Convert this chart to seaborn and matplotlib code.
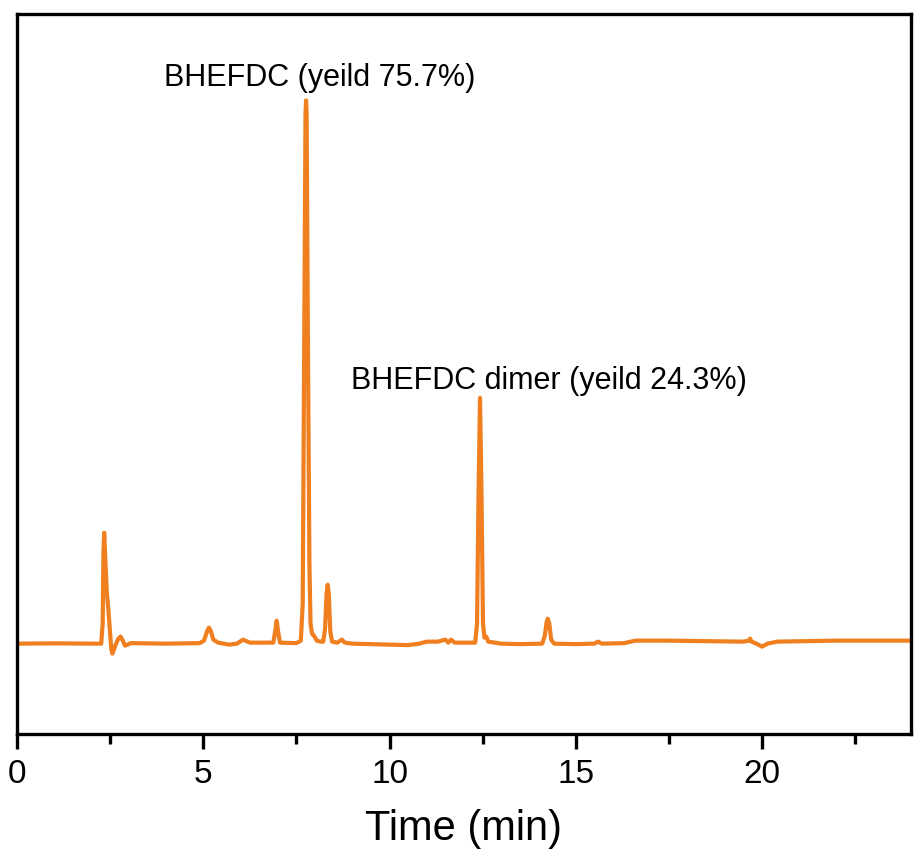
import matplotlib
matplotlib.use("Agg")
import matplotlib.pyplot as plt
from matplotlib.ticker import MultipleLocator, NullLocator
import seaborn as sns
import pandas as pd

# HPLC trace: retention time (min) and detector response (arbitrary units)
time_min = [
    0.0, 1.0, 2.0, 2.26, 2.30, 2.32, 2.34, 2.37, 2.41, 2.45, 2.49, 2.53, 2.56,
    2.60, 2.66, 2.72, 2.78, 2.84, 2.90, 2.97, 3.05, 4.0, 4.9, 5.02, 5.10, 5.15,
    5.20, 5.27, 5.40, 5.70, 5.90, 6.07, 6.25, 6.50, 6.88, 6.93, 6.97, 7.01, 7.06,
    7.50, 7.62, 7.67, 7.71, 7.745, 7.76, 7.775, 7.81, 7.85, 7.88, 7.92, 7.97,
    8.05, 8.15, 8.22, 8.27, 8.31, 8.34, 8.37, 8.41, 8.46, 8.60, 8.72, 8.80,
    9.0, 9.5, 10.0, 10.5, 10.8, 11.0, 11.3, 11.5, 11.58, 11.65, 11.75, 12.0,
    12.30, 12.35, 12.39, 12.43, 12.47, 12.51, 12.55, 12.60, 12.65, 13.0, 13.5,
    14.10, 14.17, 14.22, 14.25, 14.29, 14.34, 14.42, 15.0, 15.5, 15.6, 15.7,
    16.3, 16.6, 17.5, 18.5, 19.5, 19.65, 19.68, 19.72, 19.85, 20.0, 20.15,
    20.4, 22.0, 24.0,
]
signal = [
    0, 0.3, 0, 0, 20, 90, 111, 85, 52, 35, 15, -5, -10,
    -6, 0, 5, 7, 3, -2, -1, 0.5, 0, 0.5, 3, 12, 16,
    13, 4, 1, -1, 0, 4, 1, 1, 1, 12, 23, 12, 1,
    0.5, 3, 40, 300, 530, 544, 530, 300, 80, 20, 10, 8,
    3, 2, 2, 15, 50, 59, 50, 12, 2, 1, 4, 1,
    0, -0.5, -1, -1.5, 0, 2, 2, 4, 1, 4, 1, 1,
    1, 20, 150, 246, 150, 20, 6, 7, 2, 0, -0.5,
    0, 8, 22, 25, 20, 4, 0, -0.5, 0, 2, 0,
    0.5, 3, 3, 2.5, 2, 3, 5, 2, 0, -3, 0,
    2, 3, 3,
]

peak_labels = ["BHEFDC (yeild 75.7%)", "BHEFDC dimer (yeild 24.3%)"]
label_x = [8.13, 14.28]
label_y = [566, 263]

x_ticks = [0, 5, 10, 15, 20]

df = pd.DataFrame({"Time (min)": time_min, "Signal": signal})

sns.set_theme(style="white")
plt.rcParams["font.family"] = ["Liberation Sans", "DejaVu Sans"]

fig = plt.figure(figsize=(9.15, 8.55), dpi=100)
ax = fig.add_axes([0.0186, 0.1415, 0.9770, 0.8421])

sns.lineplot(data=df, x="Time (min)", y="Signal", sort=False, estimator=None,
             color="#EF7F1F", linewidth=3.0, ax=ax)
for ln in ax.get_lines():
    ln.set_solid_joinstyle("round")
    ln.set_solid_capstyle("round")

for txt, tx, ty in zip(peak_labels, label_x, label_y):
    ax.text(tx, ty, txt, ha="center", va="center", fontsize=22, color="black")

ax.set_xlim(0, 24)
ax.set_ylim(-90.5, 630.5)
ax.set_xticks(x_ticks)
ax.set_xticklabels([str(t) for t in x_ticks])
ax.xaxis.set_minor_locator(MultipleLocator(2.5))
ax.yaxis.set_major_locator(NullLocator())
ax.set_ylabel("")
ax.set_xlabel("Time (min)", fontsize=30, labelpad=14, color="black")

for side in ["left", "right", "top", "bottom"]:
    ax.spines[side].set_visible(True)
    ax.spines[side].set_color("black")
    ax.spines[side].set_linewidth(2.4)

ax.tick_params(axis="x", which="major", direction="out", length=11, width=2.4,
               labelsize=24, pad=7, bottom=True, colors="black")
ax.tick_params(axis="x", which="minor", direction="out", length=7, width=2.4,
               bottom=True, colors="black")

fig.savefig("out.png", dpi=100, facecolor="white")
